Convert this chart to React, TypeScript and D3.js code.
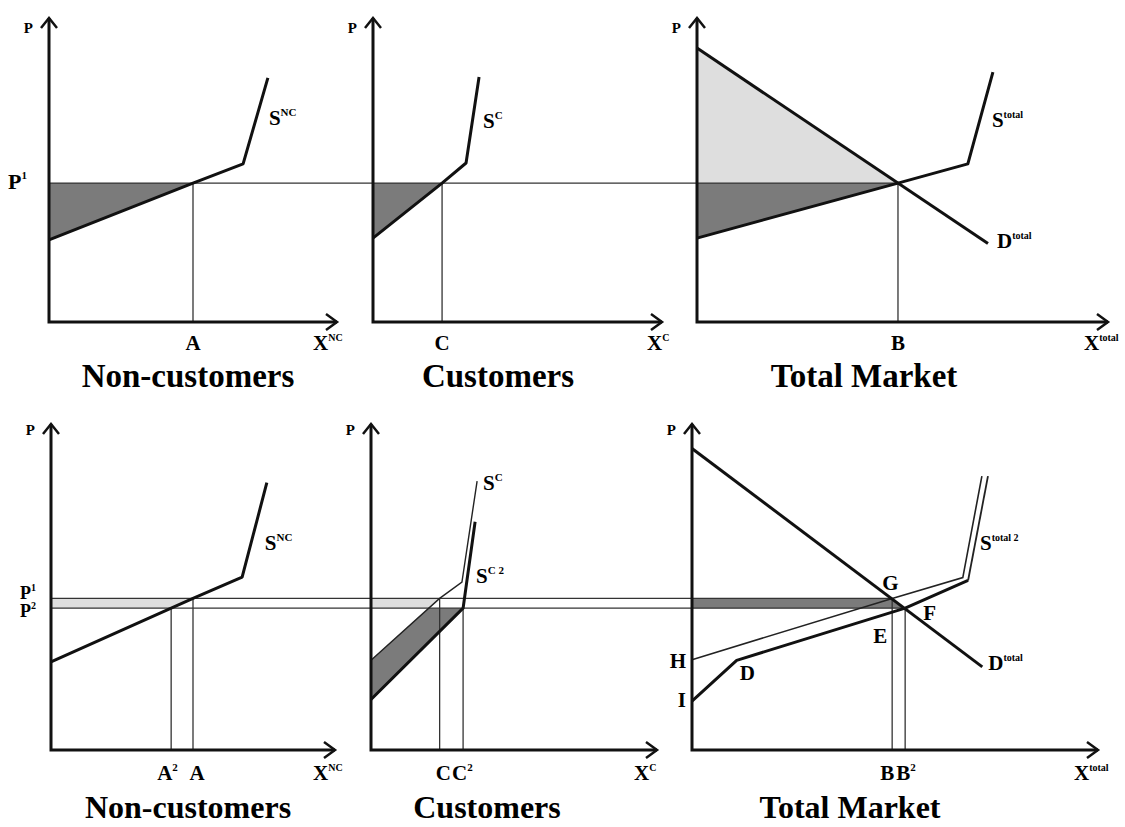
import * as d3 from "d3";

type Pt = [number, number];
type Scales = { x: d3.ScaleLinear<number, number>; y: d3.ScaleLinear<number, number> };

// ---- top row: prices and curves, [quantity, price] on a 0..100 scale per panel
const topP1 = 45.7;
const topSupplyNC: Pt[] = [[0, 27], [50, 45.7], [67.4, 52], [76, 80.3]];
const topSupplyC: Pt[] = [[0, 27.6], [23.9, 45.7], [32.2, 52.3], [36.7, 80.6]];
const topSupplyTotal: Pt[] = [[0, 27.6], [48.9, 45.7], [65.9, 52], [72, 82.2]];
const topDemandTotal: Pt[] = [[0, 90.1], [70.8, 25.8]];

// ---- bottom row
const botP1 = 46.5;
const botP2 = 43.5;
const botSupplyNC: Pt[] = [[0, 27], [50, 46.5], [67.3, 53], [76, 82]];
const botSupplyC: Pt[] = [[0, 27.5], [24, 46.5], [31.8, 51.5], [37.1, 82.5]];
const botSupplyC2: Pt[] = [[0, 15.5], [32.2, 43.5], [36.4, 70]];
const botSupplyTotal: Pt[] = [[0, 27.7], [49.3, 46.5], [66.7, 52.9], [71.4, 84]];
const botSupplyTotal2: Pt[] = [[0, 15], [11, 27.5], [52.5, 43.5], [68, 52], [72.9, 84]];
const botDemandTotal: Pt[] = [[0, 92.5], [71.5, 25.5]];

const titles = ["Non-customers", "Customers", "Total Market"];

const FONT = "'Liberation Serif', 'Times New Roman', serif";
const DARK = "#7b7b7b";
const LIGHT = "#dedede";

function frame(x0: number, x1: number, y0: number, y1: number): Scales {
  return {
    x: d3.scaleLinear().domain([0, 100]).range([x0, x1]),
    y: d3.scaleLinear().domain([0, 100]).range([y0, y1]),
  };
}

// quantity where a polyline reaches price p
function qAt(curve: Pt[], p: number) {
  for (let i = 0; i < curve.length - 1; i++) {
    const [qa, pa] = curve[i];
    const [qb, pb] = curve[i + 1];
    if (pa !== pb && (p - pa) * (p - pb) <= 0) return qa + ((p - pa) / (pb - pa)) * (qb - qa);
  }
  return curve[0][0];
}

const path = (sc: Scales, pts: Pt[]) =>
  d3.line<Pt>().x((d) => sc.x(d[0])).y((d) => sc.y(d[1]))(pts) || "";

function Axes({ sc, pY }: { sc: Scales; pY: number }) {
  const [x0, x1] = sc.x.range();
  const [y0, y1] = sc.y.range();
  return (
    <g>
      <g stroke="#111" fill="none" strokeWidth={3}>
        <path d={`M${x0},${y1}V${y0}H${x1}`} />
        <path d={`M${x0 - 8},${y1 + 10}L${x0},${y1}L${x0 + 8},${y1 + 10}`} strokeWidth={2.5} />
        <path d={`M${x1 - 11},${y0 - 8}L${x1},${y0}L${x1 - 11},${y0 + 8}`} strokeWidth={2.5} />
      </g>
      <text x={x0 - 16} y={pY} fontSize={15} textAnchor="end">P</text>
    </g>
  );
}

function Lbl({ x, y, t, sup, size = 21, supSize = 11, anchor = "start", dy = -9 }: any) {
  return (
    <text x={x} y={y} fontSize={size} textAnchor={anchor}>
      {t}
      {sup ? <tspan fontSize={supSize} dy={dy}>{sup}</tspan> : null}
    </text>
  );
}

export default function App() {
  const p1 = frame(49, 337, 322, 18);
  const p2 = frame(373, 662, 322, 18);
  const p3 = frame(697, 1108, 322, 18);
  const q1 = frame(51, 335, 750, 424);
  const q2 = frame(371, 657, 750, 424);
  const q3 = frame(692, 1098, 750, 424);

  // top intersections
  const tA = qAt(topSupplyNC, topP1);
  const tC = qAt(topSupplyC, topP1);
  const tB = qAt(topSupplyTotal, topP1);
  const tyP = p1.y(topP1);

  // bottom intersections
  const bA = qAt(botSupplyNC, botP1);
  const bA2 = qAt(botSupplyNC, botP2);
  const bC = qAt(botSupplyC, botP1);
  const bCl = qAt(botSupplyC, botP2);
  const bC2 = qAt(botSupplyC2, botP2);
  const bB = qAt(botSupplyTotal, botP1);
  const bB2 = qAt(botSupplyTotal2, botP2);
  const byP1 = q1.y(botP1);
  const byP2 = q1.y(botP2);

  const thick = { stroke: "#111", strokeWidth: 3, fill: "none", strokeLinejoin: "round" as const };
  const thin = { stroke: "#333", strokeWidth: 1.3, fill: "none" };

  return (
    <svg
      width={1125}
      height={827}
      style={{ position: "absolute", left: 0, top: 0, background: "#fff" }}
      fontFamily={FONT}
      fontWeight="bold"
    >
      {/* ---------- TOP ROW ---------- */}
      <path d={path(p1, [[0, topP1], [0, topSupplyNC[0][1]], [tA, topP1]]) + "Z"} fill={DARK} />
      <path d={path(p2, [[0, topP1], [0, topSupplyC[0][1]], [tC, topP1]]) + "Z"} fill={DARK} />
      <path d={path(p3, [[0, topP1], [0, topDemandTotal[0][1]], [tB, topP1]]) + "Z"} fill={LIGHT} />
      <path d={path(p3, [[0, topP1], [0, topSupplyTotal[0][1]], [tB, topP1]]) + "Z"} fill={DARK} />

      <line x1={p1.x(0)} x2={p3.x(tB)} y1={tyP} y2={tyP} {...thin} />
      <line x1={p1.x(tA)} x2={p1.x(tA)} y1={tyP} y2={p1.y(0)} {...thin} />
      <line x1={p2.x(tC)} x2={p2.x(tC)} y1={tyP} y2={p2.y(0)} {...thin} />
      <line x1={p3.x(tB)} x2={p3.x(tB)} y1={tyP} y2={p3.y(0)} {...thin} />

      <path d={path(p1, topSupplyNC)} {...thick} />
      <path d={path(p2, topSupplyC)} {...thick} />
      <path d={path(p3, topSupplyTotal)} {...thick} />
      <path d={path(p3, topDemandTotal)} {...thick} />

      <Axes sc={p1} pY={33} />
      <Axes sc={p2} pY={33} />
      <Axes sc={p3} pY={33} />

      <Lbl x={8} y={tyP + 6} t="P" sup="1" size={22} supSize={11} dy={-10} />
      <Lbl x={p1.x(76) + 1} y={125} t="S" sup="NC" />
      <Lbl x={p2.x(36.7) + 4} y={128} t="S" sup="C" />
      <Lbl x={p3.x(72) - 1} y={127} t="S" sup="total" supSize={10} />
      <Lbl x={p3.x(70.8) + 9} y={248} t="D" sup="total" supSize={10} />
      <Lbl x={p1.x(tA)} y={350} t="A" anchor="middle" />
      <Lbl x={p2.x(tC)} y={350} t="C" anchor="middle" />
      <Lbl x={p3.x(tB)} y={350} t="B" anchor="middle" />
      <Lbl x={313} y={350} t="X" sup="NC" supSize={10} />
      <Lbl x={647} y={350} t="X" sup="C" supSize={10} />
      <Lbl x={1084} y={350} t="X" sup="total" supSize={10} />

      <text x={188} y={387} fontSize={33} textAnchor="middle">{titles[0]}</text>
      <text x={498} y={387} fontSize={33} textAnchor="middle">{titles[1]}</text>
      <text x={864} y={387} fontSize={33} textAnchor="middle">{titles[2]}</text>

      {/* ---------- BOTTOM ROW ---------- */}
      <path d={path(q1, [[0, botP1], [bA, botP1], [bA2, botP2], [0, botP2]]) + "Z"} fill={LIGHT} />
      <path d={path(q2, [[0, botP1], [bC, botP1], [bCl, botP2], [0, botP2]]) + "Z"} fill={LIGHT} />
      <path
        d={path(q2, [[0, botSupplyC[0][1]], [bCl, botP2], [bC2, botP2], [0, botSupplyC2[0][1]]]) + "Z"}
        fill={DARK}
      />
      <path d={path(q3, [[0, botP1], [bB, botP1], [bB2, botP2], [0, botP2]]) + "Z"} fill={DARK} />

      <line x1={q1.x(0)} x2={q3.x(bB)} y1={byP1} y2={byP1} {...thin} />
      <line x1={q1.x(0)} x2={q3.x(bB2)} y1={byP2} y2={byP2} {...thin} />
      <line x1={q1.x(bA)} x2={q1.x(bA)} y1={byP1} y2={q1.y(0)} {...thin} />
      <line x1={q1.x(bA2)} x2={q1.x(bA2)} y1={byP2} y2={q1.y(0)} {...thin} />
      <line x1={q2.x(bC)} x2={q2.x(bC)} y1={byP1} y2={q2.y(0)} {...thin} />
      <line x1={q2.x(bC2)} x2={q2.x(bC2)} y1={byP2} y2={q2.y(0)} {...thin} />
      <line x1={q3.x(bB)} x2={q3.x(bB)} y1={byP1} y2={q3.y(0)} {...thin} />
      <line x1={q3.x(bB2)} x2={q3.x(bB2)} y1={byP2} y2={q3.y(0)} {...thin} />

      <path d={path(q1, botSupplyNC)} {...thick} />
      <path d={path(q2, botSupplyC)} stroke="#222" strokeWidth={1.4} fill="none" />
      <path d={path(q2, botSupplyC2)} {...thick} />
      <path d={path(q3, botSupplyTotal)} stroke="#222" strokeWidth={1.6} fill="none" />
      <path d={path(q3, botSupplyTotal2.slice(0, 4))} {...thick} />
      <path d={path(q3, botSupplyTotal2.slice(3))} stroke="#222" strokeWidth={1.8} fill="none" />
      <path d={path(q3, botDemandTotal)} {...thick} />

      <Axes sc={q1} pY={435} />
      <Axes sc={q2} pY={435} />
      <Axes sc={q3} pY={435} />

      <Lbl x={20} y={byP1 + 1} t="P" sup="1" size={18} supSize={10} dy={-8} />
      <Lbl x={20} y={byP2 + 9} t="P" sup="2" size={18} supSize={10} dy={-8} />
      <Lbl x={q1.x(76) - 2} y={550} t="S" sup="NC" />
      <Lbl x={q2.x(37.1) + 6} y={490} t="S" sup="C" />
      <Lbl x={q2.x(36.4) + 1} y={583} t="S" sup="C 2" />
      <Lbl x={q3.x(72.9) - 8} y={550} t="S" sup="total 2" supSize={10} />
      <Lbl x={q3.x(71.5) + 6} y={670} t="D" sup="total" supSize={10} />
      <Lbl x={q3.x(bB) - 10} y={590} t="G" />
      <Lbl x={q3.x(bB2) + 18} y={620} t="F" />
      <Lbl x={q3.x(bB) - 19} y={643} t="E" />
      <Lbl x={q3.x(11) + 3} y={680} t="D" />
      <Lbl x={686} y={668} t="H" anchor="end" />
      <Lbl x={686} y={707} t="I" anchor="end" />

      <Lbl x={q1.x(bA2) - 14} y={780} t="A" sup="2" />
      <Lbl x={q1.x(bA) + 4} y={780} t="A" anchor="middle" />
      <Lbl x={q2.x(bC) - 4} y={780} t="C" />
      <Lbl x={q2.x(bC2) - 11} y={780} t="C" sup="2" />
      <Lbl x={q3.x(bB) - 12} y={780} t="B" />
      <Lbl x={q3.x(bB2) - 9} y={780} t="B" sup="2" />
      <Lbl x={313} y={780} t="X" sup="NC" supSize={10} />
      <Lbl x={634} y={780} t="X" sup="C" supSize={10} />
      <Lbl x={1074} y={780} t="X" sup="total" supSize={10} />

      <text x={188} y={818} fontSize={32} textAnchor="middle">{titles[0]}</text>
      <text x={487} y={818} fontSize={32} textAnchor="middle">{titles[1]}</text>
      <text x={850} y={818} fontSize={32} textAnchor="middle">{titles[2]}</text>
    </svg>
  );
}
